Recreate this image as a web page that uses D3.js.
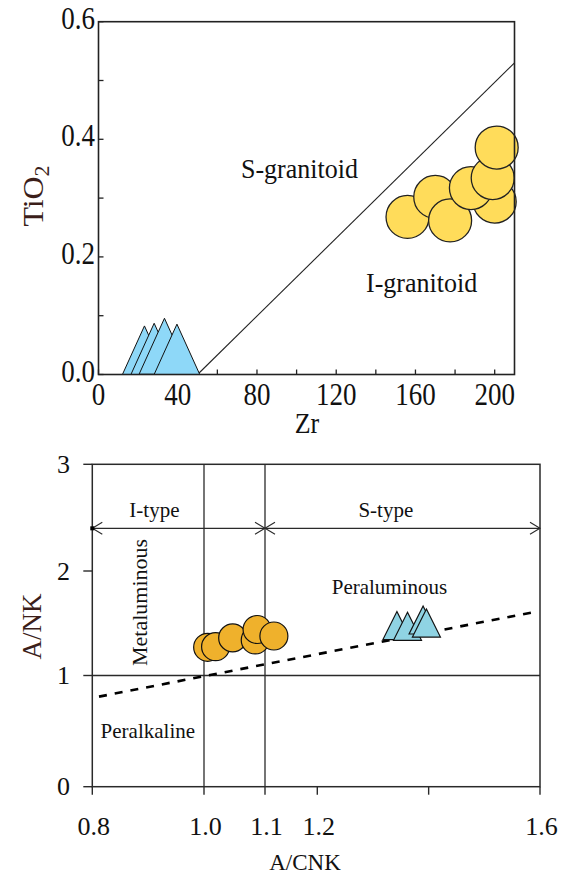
<!DOCTYPE html>
<html>
<head>
<meta charset="utf-8">
<script src="https://cdn.jsdelivr.net/npm/d3@7"></script>
<style>
body { margin: 0; background: #fff; }
</style>
</head>
<body>
<div class="canvas"></div>
<script>
// top panel: Zr vs TiO2
var zrTicks = [0, 20, 40, 60, 80, 100, 120, 140, 160, 180, 200];
var zrLabels = [0, 40, 80, 120, 160, 200];
var tiTicks = [0, 0.1, 0.2, 0.3, 0.4, 0.5, 0.6];
var tiLabels = [0, 0.2, 0.4, 0.6];
var divideZr = [50, 210];
var divideTi = [0, 0.53];
var circZr = [156, 170, 177.5, 200, 188, 199, 201];
var circTi = [0.268, 0.302, 0.262, 0.294, 0.317, 0.334, 0.386];
var triZr = [23.2, 28.1, 33.3, 39.6];
var triTi = [0.035, 0.0395, 0.048, 0.038];

// bottom panel: A/CNK vs A/NK
var acnkTicks = [0.8, 1.0, 1.1, 1.2, 1.4, 1.6];
var acnkLabels = [0.8, 1.0, 1.1, 1.2, 1.6];
var ankTicks = [0, 1, 2, 3];
var typeBounds = [1.0, 1.1];
var arrowAnk = 2.4;
var iTypeRange = [0.8, 1.1];
var sTypeRange = [1.1, 1.6];
var dashAcnk = [0.812, 1.592];
var dashAnk = [0.81, 1.61];
var circAcnk = [1.006, 1.019, 1.047, 1.084, 1.087, 1.117];
var circAnk = [1.27, 1.276, 1.36, 1.34, 1.44, 1.378];
var triAcnk = [1.343, 1.362, 1.390, 1.396];
var triAnk = [1.478, 1.471, 1.531, 1.502];

var svg;
var serif = "'Liberation Serif', 'DejaVu Serif', serif";

function init() {
    svg = d3.select(".canvas").append("svg")
            .attr("width", 568)
            .attr("height", 875)
            .attr("font-family", serif);
    drawTop();
    drawBottom();
}

// text with an optional vertical stretch (the original figure is squashed)
function label(x, y, txt, size, anchor, sy, rot) {
    var t = "translate(" + x + "," + y + ") scale(1," + (sy || 1) + ")";
    if (rot) t += " rotate(" + rot + ")";
    return svg.append("text")
              .attr("transform", t)
              .attr("font-family", serif)
              .attr("font-size", size)
              .attr("fill", "#111")
              .attr("text-anchor", anchor || "start")
              .text(txt);
}

function triPath(cx, cy, hw, h) {
    return "M" + cx + "," + (cy - h / 2) +
           "L" + (cx + hw) + "," + (cy + h / 2) +
           "L" + (cx - hw) + "," + (cy + h / 2) + "Z";
}

function drawTop() {
    var x = d3.scaleLinear().domain([0, 210]).range([98.5, 514.5]);
    var y = d3.scaleLinear().domain([0, 0.6]).range([374.5, 21.7]);
    var g = svg.append("g");

    g.append("clipPath").attr("id", "clipTop")
     .append("rect")
     .attr("x", x(0)).attr("y", y(0.6) - 10)
     .attr("width", x(210) - x(0) + 12).attr("height", y(0) - y(0.6) + 10);

    // ticks, inward
    zrTicks.forEach(function (v) {
        g.append("line")
         .attr("x1", x(v)).attr("x2", x(v))
         .attr("y1", y(0)).attr("y2", y(0) - 5)
         .attr("stroke", "#222").attr("stroke-width", 1.3);
    });
    tiTicks.forEach(function (v) {
        g.append("line")
         .attr("x1", x(0)).attr("x2", x(0) + 5)
         .attr("y1", y(v)).attr("y2", y(v))
         .attr("stroke", "#222").attr("stroke-width", 1.3);
    });

    // S / I divide
    g.append("line")
     .attr("x1", x(divideZr[0])).attr("y1", y(divideTi[0]))
     .attr("x2", x(divideZr[1])).attr("y2", y(divideTi[1]))
     .attr("stroke", "#222").attr("stroke-width", 1.1);

    var marks = g.append("g").attr("clip-path", "url(#clipTop)");
    triZr.forEach(function (v, i) {
        marks.append("path")
             .attr("d", triPath(x(v), y(triTi[i]), 25.4, 56))
             .attr("fill", "#8ED8F8")
             .attr("stroke", "#111").attr("stroke-width", 1);
    });
    circZr.forEach(function (v, i) {
        marks.append("circle")
             .attr("cx", x(v)).attr("cy", y(circTi[i])).attr("r", 21.5)
             .attr("fill", "#FFDC5A")
             .attr("stroke", "#222").attr("stroke-width", 1.3);
    });

    g.append("rect")
     .attr("x", x(0)).attr("y", y(0.6))
     .attr("width", x(210) - x(0)).attr("height", y(0) - y(0.6))
     .attr("fill", "none").attr("stroke", "#222").attr("stroke-width", 1.6);

    zrLabels.forEach(function (v) {
        label(x(v), 405, v, 27, "middle", 1.18);
    });
    tiLabels.forEach(function (v) {
        label(95, y(v) + 7, v.toFixed(1), 27, "end", 1.18);
    });

    label(307, 433, "Zr", 26, "middle", 1.15);
    var ti = label(43, 196, "TiO", 29, "middle", 1.1, -90).attr("fill", "#3b1e1a");
    ti.append("tspan").attr("font-size", 20).attr("dy", 6).text("2");

    label(241, 178, "S-granitoid", 26, "start", 1.04);
    label(366, 292, "I-granitoid", 26, "start", 1.04);
}

function chevron(px, py, dir) {
    return "M" + (px + dir * 10) + "," + (py - 6) + "L" + px + "," + py +
           "L" + (px + dir * 10) + "," + (py + 6);
}

function drawBottom() {
    var x = d3.scaleLinear().domain([0.8, 1.0, 1.1, 1.2, 1.6])
              .range([92.3, 204, 265, 317.3, 540]);
    var y = d3.scaleLinear().domain([0, 1, 2, 3])
              .range([786.7, 675.5, 571, 464.3]);
    var g = svg.append("g");
    var ink = "#2a2a2a";

    acnkTicks.forEach(function (v) {
        g.append("line")
         .attr("x1", x(v)).attr("x2", x(v))
         .attr("y1", y(0)).attr("y2", y(0) + 8)
         .attr("stroke", ink).attr("stroke-width", 1.4);
    });
    ankTicks.forEach(function (v) {
        g.append("line")
         .attr("x1", x(0.8) - 9).attr("x2", x(0.8))
         .attr("y1", y(v)).attr("y2", y(v))
         .attr("stroke", ink).attr("stroke-width", 1.4);
    });

    // frame
    g.append("rect")
     .attr("x", x(0.8)).attr("y", y(3))
     .attr("width", x(1.6) - x(0.8)).attr("height", y(0) - y(3))
     .attr("fill", "none").attr("stroke", ink).attr("stroke-width", 1.5);

    typeBounds.forEach(function (v) {
        g.append("line")
         .attr("x1", x(v)).attr("x2", x(v))
         .attr("y1", y(3)).attr("y2", y(0))
         .attr("stroke", ink).attr("stroke-width", 1.3);
    });
    g.append("line")
     .attr("x1", x(0.8)).attr("x2", x(1.6))
     .attr("y1", y(1)).attr("y2", y(1))
     .attr("stroke", ink).attr("stroke-width", 1.3);

    // I-type / S-type arrows
    [iTypeRange, sTypeRange].forEach(function (r) {
        g.append("line")
         .attr("x1", x(r[0])).attr("x2", x(r[1]))
         .attr("y1", y(arrowAnk)).attr("y2", y(arrowAnk))
         .attr("stroke", ink).attr("stroke-width", 1.3);
        g.append("path").attr("d", chevron(x(r[0]), y(arrowAnk), 1))
         .attr("fill", "none").attr("stroke", ink).attr("stroke-width", 1.1);
        g.append("path").attr("d", chevron(x(r[1]), y(arrowAnk), -1))
         .attr("fill", "none").attr("stroke", ink).attr("stroke-width", 1.1);
    });
    g.append("rect")
     .attr("x", x(0.8) - 2).attr("y", y(arrowAnk) - 2)
     .attr("width", 4).attr("height", 4).attr("fill", "#000");

    // metaluminous / peraluminous boundary
    var dashLine = d3.line()
        .x(function (d) { return x(d[0]); })
        .y(function (d) { return y(d[1]); });
    g.append("path")
     .attr("d", dashLine(dashAcnk.map(function (v, i) { return [v, dashAnk[i]]; })))
     .attr("fill", "none").attr("stroke", "#000")
     .attr("stroke-width", 2.6).attr("stroke-dasharray", "8,8");

    circAcnk.forEach(function (v, i) {
        g.append("circle")
         .attr("cx", x(v)).attr("cy", y(circAnk[i])).attr("r", 14)
         .attr("fill", "#EFB12C")
         .attr("stroke", "#111").attr("stroke-width", 1.2);
    });
    triAcnk.forEach(function (v, i) {
        g.append("path")
         .attr("d", triPath(x(v), y(triAnk[i]), 14, 28))
         .attr("fill", "#8FD3E3")
         .attr("stroke", "#111").attr("stroke-width", 1.2);
    });

    ankTicks.forEach(function (v) {
        label(70, y(v) + 8.5, v, 26, "end");
    });
    acnkLabels.forEach(function (v) {
        label(x(v) + 1.5, 835, v.toFixed(1), 26, "middle");
    });

    label(41, 626.5, "A/NK", 27, "middle", 1, -90).attr("fill", "#3b1e1a");
    label(305, 870, "A/CNK", 23, "middle");

    label(154.4, 517, "I-type", 21, "middle");
    label(385.8, 517, "S-type", 21, "middle");
    label(147, 602.5, "Metaluminous", 22, "middle", 1, -90);
    label(331.7, 594, "Peraluminous", 21, "start");
    label(100.6, 738, "Peralkaline", 21, "start");
}

init();
</script>
</body>
</html>
